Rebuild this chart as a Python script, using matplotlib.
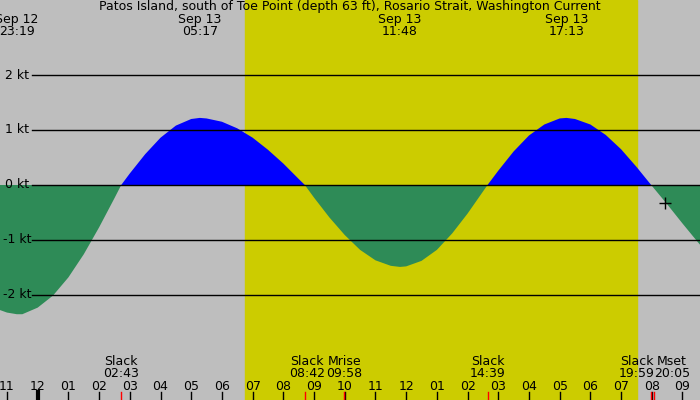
import matplotlib
matplotlib.use("Agg")
import matplotlib.pyplot as plt
import numpy as np

# hours since Sep 12 23:00
times = [-0.25, 0, 0.32, 0.5, 1, 1.5, 2, 2.5, 3, 3.5, 3.72, 4, 4.5, 5, 5.5, 6, 6.28, 6.5, 7, 7.5, 8, 8.5, 9, 9.5, 9.7,
         10, 10.5, 11, 11.5, 12, 12.5, 12.8, 13, 13.5, 14, 14.5, 15, 15.5, 15.65, 16, 16.5, 17, 17.5, 18, 18.22,
         18.5, 19, 19.5, 20, 20.5, 20.98, 21.5, 22, 22.5, 22.75]
speed = [-2.27, -2.32, -2.35, -2.35, -2.23, -2.01, -1.68, -1.26, -0.77, -0.24, 0.0, 0.21, 0.56, 0.86, 1.08, 1.20, 1.22,
         1.21, 1.15, 1.03, 0.86, 0.64, 0.39, 0.11, 0.0, -0.23, -0.59, -0.91, -1.18, -1.37, -1.47, -1.49, -1.48, -1.38,
         -1.18, -0.88, -0.52, -0.12, 0.0, 0.26, 0.61, 0.90, 1.10, 1.21, 1.22, 1.20, 1.10, 0.91, 0.65, 0.33, 0.0, -0.35,
         -0.70, -1.04, -1.20]
hour_labels = ["11", "12", "01", "02", "03", "04", "05", "06", "07", "08", "09", "10", "11", "12",
               "01", "02", "03", "04", "05", "06", "07", "08", "09"]
kt_levels = [2, 1, 0, -1, -2]
top_events = [(0.32, "Sep 12\n23:19"), (6.28, "Sep 13\n05:17"), (12.8, "Sep 13\n11:48"), (18.22, "Sep 13\n17:13")]
bottom_events = [(3.72, "Slack\n02:43"), (9.77, "Slack\n08:42"), (10.98, "Mrise\n09:58"),
                 (15.65, "Slack\n14:39"), (20.52, "Slack\n19:59"), (21.66, "Mset\n20:05")]
red_marks = [3.72, 9.7, 10.97, 15.65, 20.98, 21.08]
sunrise, sunset = 7.75, 20.52

fig = plt.figure(figsize=(7, 4), dpi=100, facecolor="#bebebe")
ax = fig.add_axes([0, 0, 1, 1])
x0, x1 = -0.228, 22.57
ax.set_xlim(x0, x1)
ax.set_ylim(-3.91, 3.364)
ax.axvspan(sunrise, sunset, color="#cccc00", zorder=0)
t = np.array(times); s = np.array(speed)
ax.fill_between(t, 0, s, where=s >= 0, color="#0000ff", interpolate=True, lw=0, zorder=2)
ax.fill_between(t, 0, s, where=s <= 0, color="#2e8b57", interpolate=True, lw=0, zorder=2)
for k in kt_levels:
    ax.plot([0.82, x1], [k, k], color="black", lw=1, zorder=3)
    ax.text(0.33, k, f"{k} kt", ha="center", va="center", fontsize=9, zorder=4)
ax.plot([21.43], [-0.33], marker="+", color="black", ms=8, mew=1, zorder=5)
ax.text(11.17, 3.364, "Patos Island, south of Toe Point (depth 63 ft), Rosario Strait, Washington Current",
        ha="center", va="top", fontsize=9)
for x, lab in top_events:
    ax.text(x, 3.13, lab, ha="center", va="top", fontsize=9, linespacing=0.95)
for x, lab in bottom_events:
    ax.text(x, -3.32, lab, ha="center", va="center", fontsize=9, linespacing=0.95)
for i, lab in enumerate(hour_labels):
    ax.text(i, -3.66, lab, ha="center", va="center", fontsize=9)
    ax.plot([i, i], [-3.91, -3.76], color="black", lw=3 if i == 1 else 1, zorder=4)
for x in red_marks:
    ax.plot([x, x], [-3.91, -3.76], color="red", lw=1, zorder=4)
ax.axis("off")
fig.savefig("out.png", dpi=100, facecolor="#bebebe")
